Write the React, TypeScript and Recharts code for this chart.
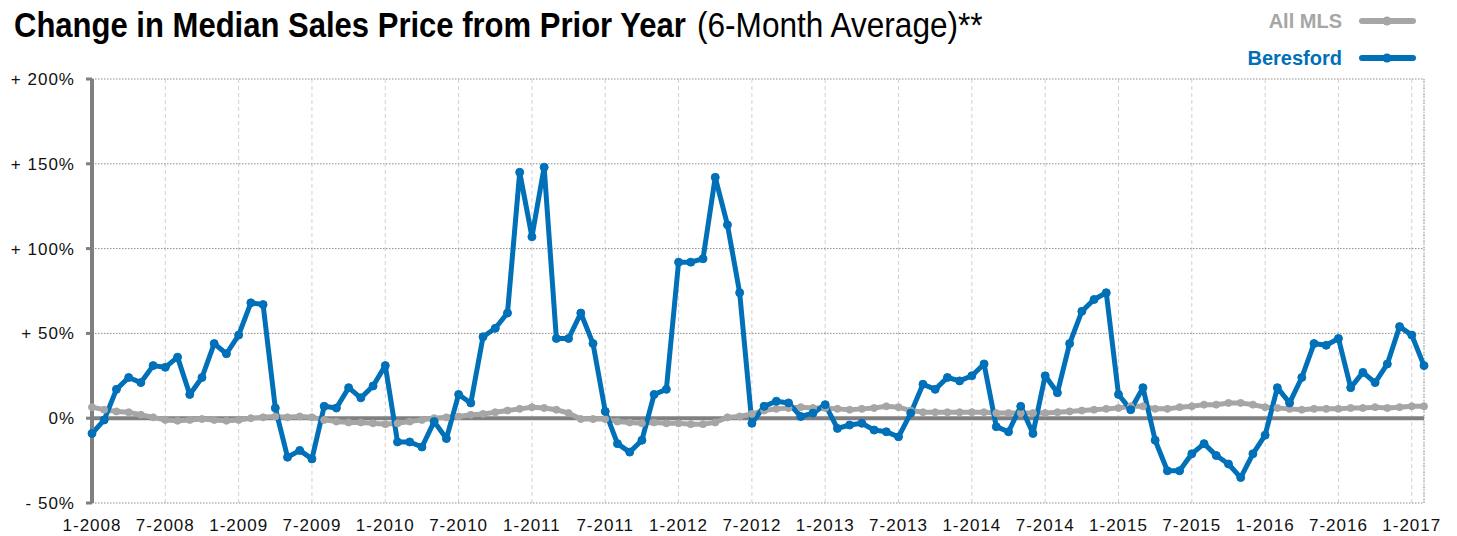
import { LineChart, Line, XAxis, YAxis, CartesianGrid, ReferenceLine } from "recharts";

// monthly, 1-2008 .. 2-2017
const beresford = [
  -9, -1, 17, 24, 21, 31, 30, 36, 14, 24, 44, 38,
  49, 68, 67, 6, -23, -19, -24, 7, 6, 18, 12, 19,
  31, -14, -14, -17, -2, -12, 14, 9, 48, 53, 62, 145,
  107, 148, 47, 47, 62, 44, 4, -15, -20, -13, 14, 17,
  92, 92, 94, 142, 114, 74, -3, 7, 10, 9, 1, 3,
  8, -6, -4, -3, -7, -8, -11, 3, 20, 17, 24, 22,
  25, 32, -5, -8, 7, -9, 25, 15, 44, 63, 70, 74,
  14, 5, 18, -13, -31, -31, -21, -15, -22, -27, -35, -21,
  -10, 18, 9, 24, 44, 43, 47, 18, 27, 21, 32, 54,
  49, 31,
];

const allMls = [
  6.5, 5, 4, 3.5, 2, 0.5, -1, -1.5, -1, -0.5, -1, -1.5,
  -1, 0, 0.5, 1, 0.5, 1, 0.5, -1, -2, -2.5, -2.5, -3,
  -3.5, -3, -2, -1, 0, 0.5, 1, 2, 2.5, 3.5, 4.5, 5.5,
  6.5, 6, 5, 3, -0.5, -0.5, -0.5, -2, -2.5, -3, -2.5, -3,
  -3, -3.5, -3.5, -2.5, 0.5, 1, 2.5, 4.5, 5.5, 6, 6.5, 6,
  6, 5.5, 5, 5.5, 6, 7, 6.5, 4.5, 3.5, 3.5, 3.5, 3.5,
  3.5, 3.5, 3, 3, 3, 3, 3, 3.5, 4, 4.5, 5, 5.5,
  6, 7, 7, 5.5, 5.5, 6.5, 7, 8, 8, 9, 9, 8,
  6.5, 6, 5.5, 5, 5.5, 5.5, 5.5, 6, 6, 6.5, 6, 6.5,
  7, 7,
];

const tickLabels = [
  "1-2008", "7-2008", "1-2009", "7-2009", "1-2010", "7-2010",
  "1-2011", "7-2011", "1-2012", "7-2012", "1-2013", "7-2013",
  "1-2014", "7-2014", "1-2015", "7-2015", "1-2016", "7-2016", "1-2017",
];

const yTicks = [-50, 0, 50, 100, 150, 200];

const data = beresford.map((b, i) => ({ idx: i, beresford: b, allMls: allMls[i] }));

const BLUE = "#0070b8";
const GREY = "#a6a6a6";
const AXIS = "#808080";

const fmtPct = (v: number) => (v > 0 ? `+ ${v}%` : v < 0 ? `- ${-v}%` : "0%");

export default function App() {
  const tickStyle = { fontFamily: "Liberation Sans, Arial, sans-serif", fontSize: 17, fill: "#111", letterSpacing: 1 };
  return (
    <div style={{ position: "absolute", left: 0, top: 0, width: 1457, height: 536, background: "#fff" }}>
      <LineChart
        width={1457}
        height={536}
        data={data}
        margin={{ top: 79, right: 33, bottom: 0, left: 12 }}
      >
        <CartesianGrid horizontal={false} stroke="#d0d0d0" strokeDasharray="4 3" />
        <CartesianGrid vertical={false} stroke="#8c8c8c" strokeDasharray="1.5 1.5" />
        <XAxis
          dataKey="idx"
          type="number"
          domain={[0, 109]}
          ticks={tickLabels.map((_, k) => k * 6)}
          tickFormatter={(v: number) => tickLabels[v / 6]}
          axisLine={false}
          tickLine={false}
          tickSize={0}
          tickMargin={16}
          height={33}
          tick={tickStyle}
          interval={0}
        />
        <YAxis
          type="number"
          domain={[-50, 200]}
          ticks={yTicks}
          tickFormatter={fmtPct}
          width={80}
          axisLine={{ stroke: AXIS, strokeWidth: 4 }}
          tickLine={{ stroke: AXIS, strokeWidth: 3 }}
          tickSize={6}
          tickMargin={11}
          tick={tickStyle}
        />
        <ReferenceLine x={109} stroke="#9a9a9a" strokeDasharray="1.5 1.5" />
        <ReferenceLine y={0} stroke={AXIS} strokeWidth={4} />
        <Line
          dataKey="allMls"
          stroke={GREY}
          strokeWidth={5}
          dot={{ r: 3.5, fill: GREY, stroke: GREY, strokeWidth: 1 }}
          isAnimationActive={false}
        />
        <Line
          dataKey="beresford"
          stroke={BLUE}
          strokeWidth={5}
          strokeLinejoin="round"
          dot={{ r: 4, fill: BLUE, stroke: BLUE, strokeWidth: 1 }}
          isAnimationActive={false}
        />
      </LineChart>
      <svg width={1457} height={75} style={{ position: "absolute", left: 0, top: 0 }}>
        {/* condensed look: scale the Arial-metric font horizontally */}
        <text
          transform="translate(14,37) scale(0.862,1)"
          fontFamily="Liberation Sans, Arial, sans-serif"
          fontWeight="bold"
          fontSize={36}
          fill="#000"
        >
          Change in Median Sales Price from Prior Year
        </text>
        <text
          transform="translate(697,37) scale(0.878,1)"
          fontFamily="Liberation Sans, Arial, sans-serif"
          fontSize={36}
          fill="#000"
        >
          (6-Month Average)**
        </text>
        <text x={1342} y={28} textAnchor="end" fontFamily="Liberation Sans, Arial, sans-serif" fontWeight="bold" fontSize={20} fill={GREY}>
          All MLS
        </text>
        <line x1={1362} y1={21} x2={1413} y2={21} stroke={GREY} strokeWidth={6} strokeLinecap="round" />
        <circle cx={1387} cy={21} r={4.5} fill={GREY} />
        <text x={1342} y={65} textAnchor="end" fontFamily="Liberation Sans, Arial, sans-serif" fontWeight="bold" fontSize={20} fill={BLUE}>
          Beresford
        </text>
        <line x1={1362} y1={58} x2={1413} y2={58} stroke={BLUE} strokeWidth={6} strokeLinecap="round" />
        <circle cx={1387} cy={58} r={4.5} fill={BLUE} />
      </svg>
    </div>
  );
}
